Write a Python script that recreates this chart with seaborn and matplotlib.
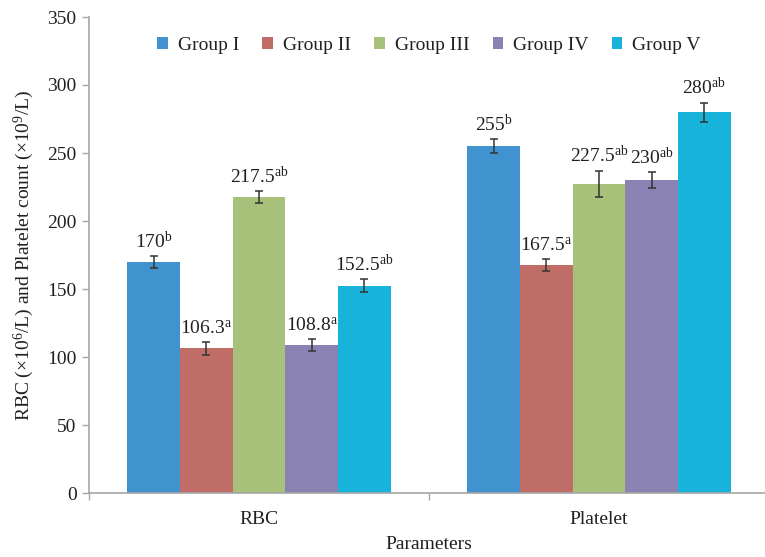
import matplotlib
matplotlib.use("Agg")
import matplotlib.pyplot as plt
from matplotlib.patches import Patch
import seaborn as sns
import pandas as pd

# Haematology results per treatment group
parameters = ["RBC", "Platelet"]
groups = ["Group I", "Group II", "Group III", "Group IV", "Group V"]
rbc_values = [170, 106.3, 217.5, 108.8, 152.5]
platelet_values = [255, 167.5, 227.5, 230, 280]
rbc_errors = [4.5, 5, 4.5, 4.5, 5]
platelet_errors = [5, 4.5, 9.5, 6, 7]
rbc_letters = ["b", "a", "ab", "a", "ab"]
platelet_letters = ["b", "a", "ab", "ab", "ab"]
colors = ["#4193D0", "#C06C67", "#A7C17B", "#8982B3", "#17B3DB"]
y_ticks = [0, 50, 100, 150, 200, 250, 300, 350]

rows = []
for g, v, e, s in zip(groups, rbc_values, rbc_errors, rbc_letters):
    rows.append({"param": "RBC", "group": g, "value": v, "err": e, "sig": s})
for g, v, e, s in zip(groups, platelet_values, platelet_errors, platelet_letters):
    rows.append({"param": "Platelet", "group": g, "value": v, "err": e, "sig": s})
df = pd.DataFrame(rows)

sns.set_theme(style="white")
plt.rcParams["font.family"] = ["Liberation Serif", "DejaVu Serif"]
plt.rcParams["mathtext.fontset"] = "custom"
plt.rcParams["mathtext.rm"] = "Liberation Serif"
plt.rcParams["mathtext.it"] = "Liberation Serif:italic"

text_color = "#231f20"
axis_color = "#a6a6a6"
fs = 14

fig = plt.figure(figsize=(7.65, 5.57), dpi=100)
ax = fig.add_axes([89 / 765, 64 / 557, 680 / 765, 476 / 557])

sns.barplot(data=df, x="param", y="value", hue="group", order=parameters,
            hue_order=groups, palette=colors, saturation=1, width=0.774,
            errorbar=None, legend=False, ax=ax, linewidth=0)

# Error bars and significance labels on each bar
bar_containers = list(ax.containers)
for gi, container in enumerate(bar_containers):
    g = groups[gi]
    for pi, bar in enumerate(container):
        row = df[(df.group == g) & (df.param == parameters[pi])].iloc[0]
        xc = bar.get_x() + bar.get_width() / 2
        ax.errorbar(xc, row.value, yerr=row.err, fmt="none", ecolor="#333333",
                    elinewidth=1.1, capsize=2.8, capthick=1.1, zorder=3)
        label = f"{row.value:g}" + r"$^{\mathrm{" + row.sig + r"}}$"
        ax.text(xc, row.value + row.err + 3.0, label, ha="center", va="bottom",
                fontsize=fs, color=text_color)

ax.set_xlim(-0.5, 1.5)
ax.set_ylim(0, 350)
ax.set_yticks(y_ticks)
ax.tick_params(axis="y", direction="out", length=5, width=1, color=axis_color,
               labelsize=fs, labelcolor=text_color, pad=4, left=True)
ax.set_xticks([0, 1])
ax.set_xticklabels(parameters)
ax.tick_params(axis="x", length=0, labelsize=fs, labelcolor=text_color, pad=13)
ax.set_xticks([-0.5, 0.5, 1.5], minor=True)
ax.tick_params(axis="x", which="minor", direction="out", length=5, width=1,
               color=axis_color, bottom=True)

for side in ["top", "right"]:
    ax.spines[side].set_visible(False)
for side in ["left", "bottom"]:
    ax.spines[side].set_color(axis_color)
    ax.spines[side].set_linewidth(1.2)

ax.set_xlabel("Parameters", fontsize=fs, color=text_color, labelpad=6)
ax.set_ylabel(r"RBC (×10$^{6}$/L) and Platelet count (×10$^{9}$/L)",
              fontsize=fs, color=text_color, labelpad=8)

handles = [Patch(facecolor=c, edgecolor="none", label=g) for g, c in zip(groups, colors)]
ax.legend(handles=handles, loc="center", bbox_to_anchor=(0.5, 0.941), ncol=5,
          frameon=False, fontsize=fs, handlelength=0.55, handleheight=0.55,
          handletextpad=0.5, columnspacing=1.2, labelcolor=text_color)

fig.savefig("out.png", dpi=100)
